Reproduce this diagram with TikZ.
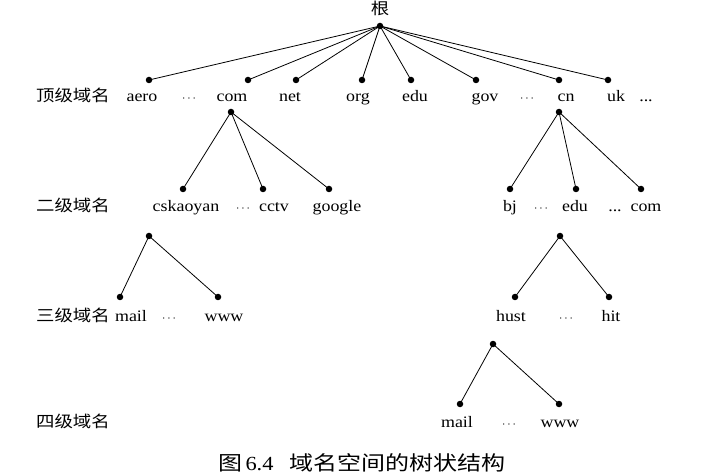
\documentclass[tikz,border=0pt]{standalone}
\usepackage{fontspec}
\setmainfont[FakeStretch=1.12]{Liberation Serif}
\newfontfamily\cjk[FakeStretch=1.15]{Noto Sans CJK SC}
\newfontfamily\cjkcap[FakeStretch=1.2]{Noto Sans CJK SC}
\begin{document}
\begin{tikzpicture}[x=1pt,y=-1pt,
  dot/.style={circle,fill=black,inner sep=0pt,minimum size=6.5pt},
  lbl/.style={anchor=base,inner sep=0pt,font=\fontsize{16}{18}\selectfont},
  dts/.style={anchor=base,inner sep=0pt,font=\fontsize{13}{15}\selectfont},
  lvl/.style={anchor=base west,inner sep=0pt,font=\fontsize{16}{18}\selectfont\cjk},
  edge/.style={draw=black,line width=0.8pt}]
\useasboundingbox (0,0) rectangle (716,476);
% root
\node[lvl,anchor=base] (gen) at (380,15) {根};
\node[dot] (r) at (380,26) {};
% top-level dots
\node[dot] (aero) at (149,80) {};
\node[dot] (com) at (248,80) {};
\node[dot] (net) at (296,80) {};
\node[dot] (org) at (362,80) {};
\node[dot] (edu) at (411,80) {};
\node[dot] (gov) at (476,80) {};
\node[dot] (cn) at (559,80) {};
\node[dot] (uk) at (608,80) {};
\foreach \n in {aero,com,net,org,edu,gov,cn,uk} \draw[edge] (r.center) -- (\n.center);
% top-level labels
\node[lvl] (lv1) at (36,102) {顶级域名};
\node[lbl] (taero) at (142,102) {aero};
\node[dts] (td1) at (189,102) {$\cdots$};
\node[lbl] (tcom) at (232,102) {com};
\node[lbl] (tnet) at (290,102) {net};
\node[lbl] (torg) at (358,102) {org};
\node[lbl] (tedu) at (415,102) {edu};
\node[lbl] (tgov) at (485,102) {gov};
\node[dts] (td2) at (527,102) {$\cdots$};
\node[lbl] (tcn) at (566,102) {cn};
\node[lbl] (tuk) at (616,102) {uk};
\node[lbl] (td3) at (646,102) {...};
% second level
\node[dot] (comS) at (231,112) {};
\node[dot] (cnS) at (559,112) {};
\node[dot] (csk) at (183,189) {};
\node[dot] (cctv) at (263,189) {};
\node[dot] (goog) at (329,189) {};
\node[dot] (bj) at (510,189) {};
\node[dot] (edu2) at (576,189) {};
\node[dot] (com2) at (641,189) {};
\foreach \n in {csk,cctv,goog} \draw[edge] (comS.center) -- (\n.center);
\foreach \n in {bj,edu2,com2} \draw[edge] (cnS.center) -- (\n.center);
\node[lvl] (lv2) at (36,212) {二级域名};
\node[lbl] (scsk) at (186,212) {cskaoyan};
\node[dts] (sd1) at (243,212) {$\cdots$};
\node[lbl] (scctv) at (274,212) {cctv};
\node[lbl] (sgoog) at (337,212) {google};
\node[lbl] (sbj) at (510,212) {bj};
\node[dts] (sd2) at (541,212) {$\cdots$};
\node[lbl] (sedu) at (575,212) {edu};
\node[lbl] (sd3) at (615,212) {...};
\node[lbl] (scom) at (646,212) {com};
% third level
\node[dot] (L3) at (149,236) {};
\node[dot] (R3) at (560,236) {};
\node[dot] (mail3) at (120,297) {};
\node[dot] (www3) at (218,297) {};
\node[dot] (hust) at (515,297) {};
\node[dot] (hit) at (609,297) {};
\draw[edge] (L3.center) -- (mail3.center);
\draw[edge] (L3.center) -- (www3.center);
\draw[edge] (R3.center) -- (hust.center);
\draw[edge] (R3.center) -- (hit.center);
\node[lvl] (lv3) at (36,322) {三级域名};
\node[lbl] (hmail) at (131,322) {mail};
\node[dts] (hd1) at (169,322) {$\cdots$};
\node[lbl] (hwww) at (224,322) {www};
\node[lbl] (hhust) at (511,322) {hust};
\node[dts] (hd2) at (566,322) {$\cdots$};
\node[lbl] (hhit) at (611,322) {hit};
% fourth level
\node[dot] (F4) at (493,344) {};
\node[dot] (mail4) at (460,404) {};
\node[dot] (www4) at (559,404) {};
\draw[edge] (F4.center) -- (mail4.center);
\draw[edge] (F4.center) -- (www4.center);
\node[lvl] (lv4) at (36,427) {四级域名};
\node[lbl] (fmail) at (457,427) {mail};
\node[dts] (fd) at (509,427) {$\cdots$};
\node[lbl] (fwww) at (560,427) {www};
% caption
\node[anchor=base west,inner sep=0pt,font=\fontsize{20}{22}\selectfont] (cap1) at (218,470) {{\cjkcap 图}\,6.4};
\node[anchor=base west,inner sep=0pt,font=\fontsize{20}{22}\selectfont\cjkcap] (cap2) at (289,470) {域名空间的树状结构};
\end{tikzpicture}
\end{document}
